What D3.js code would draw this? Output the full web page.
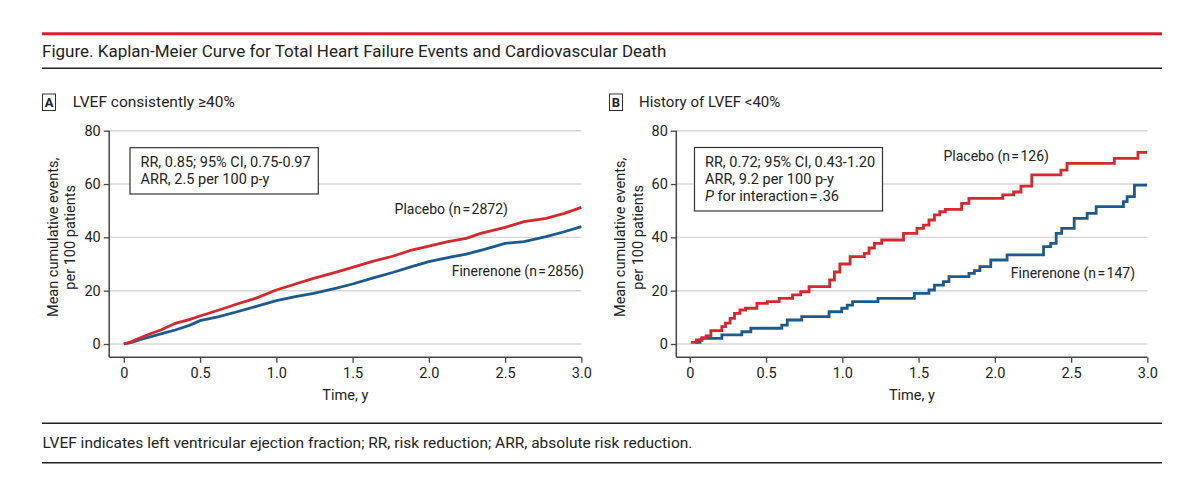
<!DOCTYPE html>
<html>
<head>
<meta charset="utf-8">
<script src="https://cdn.jsdelivr.net/npm/d3@7"></script>
<style>
  body { margin: 0; background: #fff; }
  svg text { font-family: Roboto, "Liberation Sans", sans-serif; fill: #222; }
</style>
</head>
<body>
<div id="chart"></div>
<script>
const timeTicks = [0, 0.5, 1.0, 1.5, 2.0, 2.5, 3.0];
const eventTicks = [0, 20, 40, 60, 80];

// panel A: LVEF consistently >=40% (time in years, mean cumulative events per 100 patients)
const placeboA = [
  [0, 0], [0.052, 0.9], [0.1, 2.1], [0.17, 3.75], [0.243, 5.25], [0.338, 7.75], [0.434, 9.25],
  [0.5, 10.5], [0.624, 12.75], [0.743, 15], [0.863, 17.1], [1.0, 20.25], [1.125, 22.5],
  [1.244, 24.6], [1.387, 26.9], [1.5, 28.75], [1.625, 30.9], [1.768, 33], [1.887, 35.25],
  [2.0, 36.75], [2.125, 38.4], [2.245, 39.6], [2.34, 41.5], [2.5, 43.75], [2.624, 45.9],
  [2.769, 47.1], [2.888, 49], [3.0, 51.25]
];
const finerenoneA = [
  [0, 0], [0.052, 0.6], [0.1, 1.5], [0.219, 3.4], [0.338, 5.25], [0.434, 7.1], [0.5, 8.75],
  [0.624, 10.25], [0.743, 12.1], [0.863, 14], [1.0, 16.25], [1.125, 17.75], [1.244, 19],
  [1.387, 20.9], [1.5, 22.5], [1.625, 24.6], [1.768, 26.9], [1.887, 29], [2.0, 30.9],
  [2.125, 32.4], [2.245, 33.75], [2.364, 35.5], [2.5, 37.75], [2.624, 38.4], [2.769, 40.25],
  [2.888, 42.1], [3.0, 44]
];

// panel B: history of LVEF <40%, step curves
const placeboB = [
  [0.007, 0.6], [0.043, 1.5], [0.079, 2.4], [0.107, 3.0], [0.138, 5.0], [0.21, 6.5], [0.234, 7.8],
  [0.264, 9.6], [0.293, 11.5], [0.329, 12.75], [0.365, 13.4], [0.44, 15.25], [0.508, 15.9],
  [0.586, 17.1], [0.674, 18.4], [0.727, 19.6], [0.782, 21.5], [0.917, 24.0], [0.948, 27.0],
  [0.984, 30.0], [1.051, 32.75], [1.144, 34.0], [1.175, 36.0], [1.21, 37.75], [1.258, 39.0],
  [1.401, 41.5], [1.489, 43.4], [1.532, 44.6], [1.568, 46.5], [1.604, 48.4], [1.639, 49.6],
  [1.675, 50.5], [1.782, 52.75], [1.83, 54.6], [2.052, 55.9], [2.123, 57.0], [2.171, 59.25],
  [2.242, 63.4], [2.433, 65.25], [2.473, 67.75], [2.783, 69.6], [2.938, 71.9], [2.998, 71.9]
];
const finerenoneB = [
  [0.036, 0.6], [0.067, 1.5], [0.079, 2.1], [0.21, 3.4], [0.341, 4.6], [0.4, 5.9], [0.603, 7.1],
  [0.639, 9.0], [0.734, 10.25], [0.913, 12.1], [0.996, 13.4], [1.032, 14.6], [1.067, 15.9],
  [1.234, 17.1], [1.472, 19.0], [1.568, 20.25], [1.604, 22.1], [1.663, 23.4], [1.699, 25.25],
  [1.83, 26.5], [1.866, 27.5], [1.902, 29.0], [1.973, 31.5], [2.08, 33.4], [2.319, 36.5],
  [2.366, 37.75], [2.402, 41.5], [2.438, 43.4], [2.52, 47.1], [2.605, 49.0], [2.664, 51.5],
  [2.843, 53.4], [2.867, 55.25], [2.915, 59.6], [2.998, 59.6]
];

const hs = "\u200A";
const panels = [
  { letter: "A", title: "LVEF consistently \u226540%", curve: d3.curveLinear,
    placebo: placeboA, finerenone: finerenoneA,
    stats: ["RR, 0.85; 95% CI, 0.75-0.97", "ARR, 2.5 per 100 p-y"],
    placeboLabel: `Placebo (n${hs}=${hs}2872)`, finerenoneLabel: `Finerenone (n${hs}=${hs}2856)` },
  { letter: "B", title: "History of LVEF <40%", curve: d3.curveStepAfter,
    placebo: placeboB, finerenone: finerenoneB,
    stats: ["RR, 0.72; 95% CI, 0.43-1.20", "ARR, 9.2 per 100 p-y", `for interaction${hs}=${hs}.36`],
    placeboLabel: `Placebo (n${hs}=${hs}126)`, finerenoneLabel: `Finerenone (n${hs}=${hs}147)` }
];

const red = "#d5282e", blue = "#1c5a8e";
const width = 1200, height = 483;

const svg = d3.select("#chart").append("svg")
  .attr("width", width).attr("height", height);

// header
svg.append("line").attr("x1", 42).attr("x2", 1162).attr("y1", 33.8).attr("y2", 33.8)
  .attr("stroke", "#d7202e").attr("stroke-width", 3);
svg.append("text").attr("x", 42).attr("y", 57.3)
  .style("font-size", "17px")
  .text("Figure. Kaplan-Meier Curve for Total Heart Failure Events and Cardiovascular Death");
svg.append("line").attr("x1", 42).attr("x2", 1162).attr("y1", 68.3).attr("y2", 68.3)
  .attr("stroke", "#222").attr("stroke-width", 1.6);

// footer
svg.append("line").attr("x1", 42).attr("x2", 1162).attr("y1", 423.3).attr("y2", 423.3)
  .attr("stroke", "#222").attr("stroke-width", 1.6);
svg.append("text").attr("x", 42.5).attr("y", 448)
  .style("font-size", "15.5px")
  .text("LVEF indicates left ventricular ejection fraction; RR, risk reduction; ARR, absolute risk reduction.");
svg.append("line").attr("x1", 42).attr("x2", 1162).attr("y1", 462.7).attr("y2", 462.7)
  .attr("stroke", "#222").attr("stroke-width", 1.6);

const layout = [
  { left: 123.8, axisX: 109.2, boxX: 42, headX: 72.7, headSize: 15.5, ylab: [53.6, 70],
    stat: { x: 130, y: 147.7, w: 188.3, h: 46.3 },
    plabel: [394.6, 214], flabel: [451.7, 276] },
  { left: 689.8, axisX: 676.3, boxX: 609, headX: 639, headSize: 15, ylab: [620, 638.2],
    stat: { x: 694.5, y: 147.5, w: 188, h: 63.5 },
    plabel: [943.5, 160.7], flabel: [1010.8, 278] }
];

const y = d3.scaleLinear().domain([0, 80]).range([344, 130.7]);
const axisBottomY = 357.3;

panels.forEach((p, i) => {
  const L = layout[i];
  const x = d3.scaleLinear().domain([0, 3]).range([L.left, L.left + 457.6]);
  const g = svg.append("g");

  // panel heading
  g.append("rect").attr("x", L.boxX + 0.5).attr("y", 94).attr("width", 13).attr("height", 16.5)
    .attr("fill", "none").attr("stroke", "#333").attr("stroke-width", 1);
  g.append("text").attr("x", L.boxX + 7).attr("y", 107).attr("text-anchor", "middle")
    .style("font-size", "13px").style("font-weight", "bold").text(p.letter);
  g.append("text").attr("x", L.headX).attr("y", 106.5)
    .style("font-size", L.headSize + "px").text(p.title);

  // gridlines
  g.selectAll("line.grid").data(eventTicks).join("line")
    .attr("class", "grid")
    .attr("x1", L.axisX).attr("x2", x(3))
    .attr("y1", d => y(d)).attr("y2", d => y(d))
    .attr("stroke", "#d6d6d6").attr("stroke-width", 1.4);

  // y axis
  const yAxis = g.append("g").attr("transform", `translate(${L.axisX},0)`)
    .call(d3.axisLeft(y).tickValues(eventTicks).tickSize(5.5).tickPadding(3));
  yAxis.select(".domain").remove();
  g.append("line").attr("x1", L.axisX).attr("x2", L.axisX)
    .attr("y1", y(80)).attr("y2", axisBottomY)
    .attr("stroke", "#444").attr("stroke-width", 1.5);

  // x axis
  const xAxis = g.append("g").attr("transform", `translate(0,${axisBottomY})`)
    .call(d3.axisBottom(x).tickValues(timeTicks).tickSize(5.5).tickPadding(5)
      .tickFormat(d => d === 0 ? "0" : d3.format(".1f")(d)));
  xAxis.select(".domain").remove();
  g.append("line").attr("x1", L.axisX).attr("x2", x(3))
    .attr("y1", axisBottomY).attr("y2", axisBottomY)
    .attr("stroke", "#444").attr("stroke-width", 1.5);

  g.selectAll(".tick line").attr("stroke", "#444").attr("stroke-width", 1.3);
  g.selectAll(".tick text").style("font-size", "14.5px").attr("fill", "#333")
    .style("font-family", "Roboto, \"Liberation Sans\", sans-serif");

  g.append("text").attr("x", (L.axisX + x(3)) / 2).attr("y", 400)
    .attr("text-anchor", "middle").style("font-size", "14.5px").text("Time, y");

  // y label
  const midY = (y(0) + y(80)) / 2;
  ["Mean cumulative events,", "per 100 patients"].forEach((t, k) => {
    g.append("text")
      .attr("transform", `translate(${L.ylab[k]},${midY}) rotate(-90)`)
      .attr("text-anchor", "middle").attr("dominant-baseline", "central")
      .style("font-size", "14.5px").text(t);
  });

  // curves
  const line = d3.line().x(d => x(d[0])).y(d => y(d[1])).curve(p.curve);
  g.append("path").datum(p.finerenone).attr("d", line)
    .attr("fill", "none").attr("stroke", blue).attr("stroke-width", 2.8);
  g.append("path").datum(p.placebo).attr("d", line)
    .attr("fill", "none").attr("stroke", red).attr("stroke-width", 2.8);

  // stats box
  g.append("rect").attr("x", L.stat.x).attr("y", L.stat.y)
    .attr("width", L.stat.w).attr("height", L.stat.h)
    .attr("fill", "#fff").attr("stroke", "#333").attr("stroke-width", 1.2);
  p.stats.forEach((s, k) => {
    const t = g.append("text").attr("x", L.stat.x + 10.5).attr("y", 167 + k * 17.2)
      .style("font-size", "14.5px");
    if (k === 2) {
      t.append("tspan").style("font-style", "italic").text("P");
      t.append("tspan").text(" " + s);
    } else t.text(s);
  });

  g.append("text").attr("x", L.plabel[0]).attr("y", L.plabel[1])
    .style("font-size", "14px").text(p.placeboLabel);
  g.append("text").attr("x", L.flabel[0]).attr("y", L.flabel[1])
    .style("font-size", "14px").text(p.finerenoneLabel);
});
</script>
</body>
</html>
